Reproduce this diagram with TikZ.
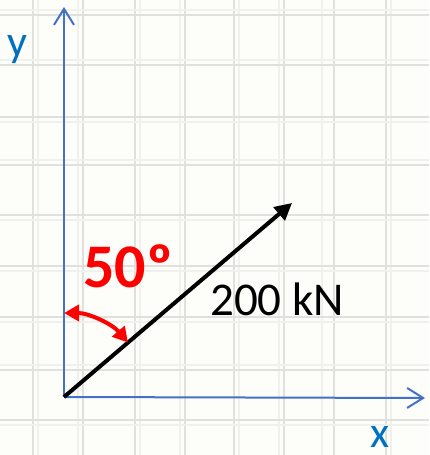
\documentclass[tikz,border=0pt]{standalone}
\usepackage{fontspec}
\setmainfont{Carlito}
\usetikzlibrary{arrows.meta}
\definecolor{bgc}{RGB}{253,253,249}
\definecolor{gridmain}{RGB}{224,224,220}
\definecolor{gridsoft}{RGB}{240,240,236}
\definecolor{axisblue}{RGB}{68,114,196}
\definecolor{labelblue}{RGB}{0,112,192}
\definecolor{angred}{RGB}{255,0,0}
\tikzset{
  axisline/.style={draw=axisblue, line width=2pt, -{Straight Barb[length=16pt,width=20pt]}},
  forceline/.style={draw=black, line width=4pt, -{Triangle[length=17pt,width=17pt]}},
  anglearc/.style={draw=angred, line width=4pt, {Triangle[length=15pt,width=16pt]}-{Triangle[length=15pt,width=16pt]}},
  axislabel/.style={text=labelblue, font=\fontsize{44}{44}\selectfont, inner sep=0pt, anchor=base west},
  gridmainline/.style={draw=gridmain, line width=1.6pt},
  gridsoftline/.style={draw=gridsoft, line width=1.4pt},
}
\begin{document}
\begin{tikzpicture}[x=1pt,y=1pt]
\useasboundingbox (0,0) rectangle (429,455);
\fill[bgc] (0,0) rectangle (429,455);
% grid (pixel coordinates converted: Y = 455 - y)
\foreach \gx/\sx in {33/38,83/78,135/140,185/180,234/239,284/279,334/322,386/391} {
  \draw[gridsoftline] (\sx,0) -- (\sx,455);
  \draw[gridmainline] (\gx,0) -- (\gx,455);
}
\foreach \gy/\sy in {15/10,65/60,117/122,165/160,215/220,266/271,317/322,370/365,420/425} {
  \draw[gridsoftline] (0,455-\sy) -- (429,455-\sy);
  \draw[gridmainline] (0,455-\gy) -- (429,455-\gy);
}
% key points
\coordinate (O) at (64,58);
\coordinate (Ytip) at (64,448);
\coordinate (Xtip) at (425,57);
\coordinate (F) at (292,252);
% axes
\draw[axisline] (O) -- (Ytip);
\draw[axisline] (O) -- (Xtip);
% force
\draw[forceline] (O) -- (F);
% angle arc
\draw[anglearc] ([shift={(90:84)}]O) arc[start angle=90, end angle=40.4, radius=84];
% labels
\node[axislabel] (ylab) at (7,398) {y};
\node[axislabel] (xlab) at (370,8) {x};
\node[text=angred, font=\fontsize{62}{62}\selectfont\bfseries, inner sep=0pt, anchor=base west] (ang) at (83,167) {50º};
\node[text=black, font=\fontsize{47}{47}\selectfont, inner sep=0pt, anchor=base west] (mag) at (210,139) {200 kN};
\end{tikzpicture}
\end{document}
